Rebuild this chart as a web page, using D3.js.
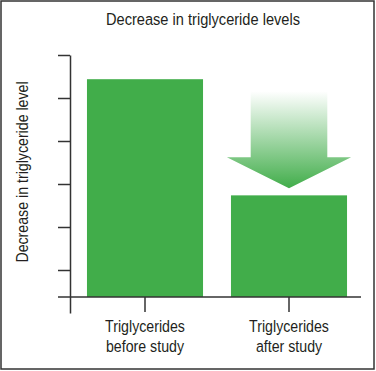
<!DOCTYPE html>
<html>
<head>
<meta charset="utf-8">
<script src="https://cdn.jsdelivr.net/npm/d3@7"></script>
<style>
  body { margin: 0; background: #fff; }
  text { font-family: "Liberation Sans", Arial, sans-serif; fill: #231f20; }
</style>
</head>
<body>
<svg id="chart"></svg>
<script>
// data (no units on the axis)
const categories = ['before', 'after'];
const categoryLabels = [['Triglycerides', 'before study'], ['Triglycerides', 'after study']];
const values = [9.0, 4.2];
const tickCount = 6;

const W = 376, H = 371;
const green = '#41ad4a';
const ink = '#333';
const narrow = 0.86; // condensed look

const svg = d3.select('#chart').attr('width', W).attr('height', H);

// frame
svg.append('rect')
    .attr('x', 1).attr('y', 1)
    .attr('width', W - 3).attr('height', H - 3)
    .attr('fill', 'none').attr('stroke', ink).attr('stroke-width', 1.5);

// scales
const xScale = d3.scaleBand()
    .domain(categories)
    .range([73, 361])
    .paddingInner(0.194)
    .paddingOuter(0.097);

const yScale = d3.scaleLinear()
    .domain([0, 10])
    .range([297, 55]);

// the decorative tick scale on the y axis (unlabelled)
const tickScale = d3.scaleLinear()
    .domain([0, tickCount])
    .range([313, 55]);

// gradient for the arrow
const grad = svg.append('defs').append('linearGradient')
    .attr('id', 'arrowGrad')
    .attr('x1', 0).attr('y1', 0).attr('x2', 0).attr('y2', 1);
grad.append('stop').attr('offset', '0%').attr('stop-color', '#fff');
grad.append('stop').attr('offset', '100%').attr('stop-color', green);

// bars
svg.selectAll('.bar')
    .data(categories)
    .join('rect')
    .attr('class', 'bar')
    .attr('x', d => xScale(d))
    .attr('y', (d, i) => yScale(values[i]))
    .attr('width', xScale.bandwidth())
    .attr('height', (d, i) => yScale(0) - yScale(values[i]))
    .attr('fill', green);

// arrow above the "after" bar
const cx = xScale('after') + xScale.bandwidth() / 2;
const bw = xScale.bandwidth();
const arrowTop = yScale(values[0]) + 12;
const arrowTip = yScale(values[1]) - 7;
const headBase = arrowTip - 31;
const shaft = bw * 0.33, head = bw * 0.535;
const arrowPts = [
    [cx - shaft, arrowTop], [cx + shaft, arrowTop], [cx + shaft, headBase],
    [cx + head, headBase], [cx, arrowTip], [cx - head, headBase], [cx - shaft, headBase]
];
svg.append('path')
    .attr('d', d3.line()(arrowPts) + 'Z')
    .attr('fill', 'url(#arrowGrad)');

// y axis
const yAxis = d3.axisLeft(tickScale)
    .tickValues(d3.range(1, tickCount + 1))
    .tickSize(12)
    .tickSizeOuter(0)
    .tickFormat('');

const yAxisG = svg.append('g')
    .attr('transform', 'translate(70,0)')
    .call(yAxis);
yAxisG.selectAll('path, line').attr('stroke', ink).attr('stroke-width', 1.5);

// x axis
const xAxis = d3.axisBottom(xScale)
    .tickSize(15)
    .tickSizeOuter(0)
    .tickFormat('');

const xAxisG = svg.append('g')
    .attr('transform', `translate(0,${yScale(0)})`)
    .call(xAxis);
xAxisG.select('.domain').remove();
xAxisG.selectAll('line').attr('stroke', ink).attr('stroke-width', 1.5);
xAxisG.append('line')
    .attr('x1', 58).attr('x2', xScale.range()[1])
    .attr('stroke', ink).attr('stroke-width', 1.5);

// category labels
svg.selectAll('.cat-label')
    .data(categories)
    .join('text')
    .attr('class', 'cat-label')
    .attr('text-anchor', 'middle')
    .attr('font-size', 16.5)
    .attr('transform', d => `translate(${xScale(d) + xScale.bandwidth() / 2},${yScale(0) + 35}) scale(${narrow},1)`)
    .selectAll('tspan')
    .data((d, i) => categoryLabels[i])
    .join('tspan')
    .attr('x', 0)
    .attr('dy', (d, i) => i === 0 ? 0 : 20)
    .text(d => d);

// title
svg.append('text')
    .attr('transform', `translate(203,25) scale(${narrow},1)`)
    .attr('text-anchor', 'middle')
    .attr('font-size', 17)
    .text('Decrease in triglyceride levels');

// y axis label
svg.append('text')
    .attr('transform', `translate(28,172) rotate(-90) scale(${narrow},1)`)
    .attr('text-anchor', 'middle')
    .attr('font-size', 16.5)
    .text('Decrease in triglyceride level');
</script>
</body>
</html>
